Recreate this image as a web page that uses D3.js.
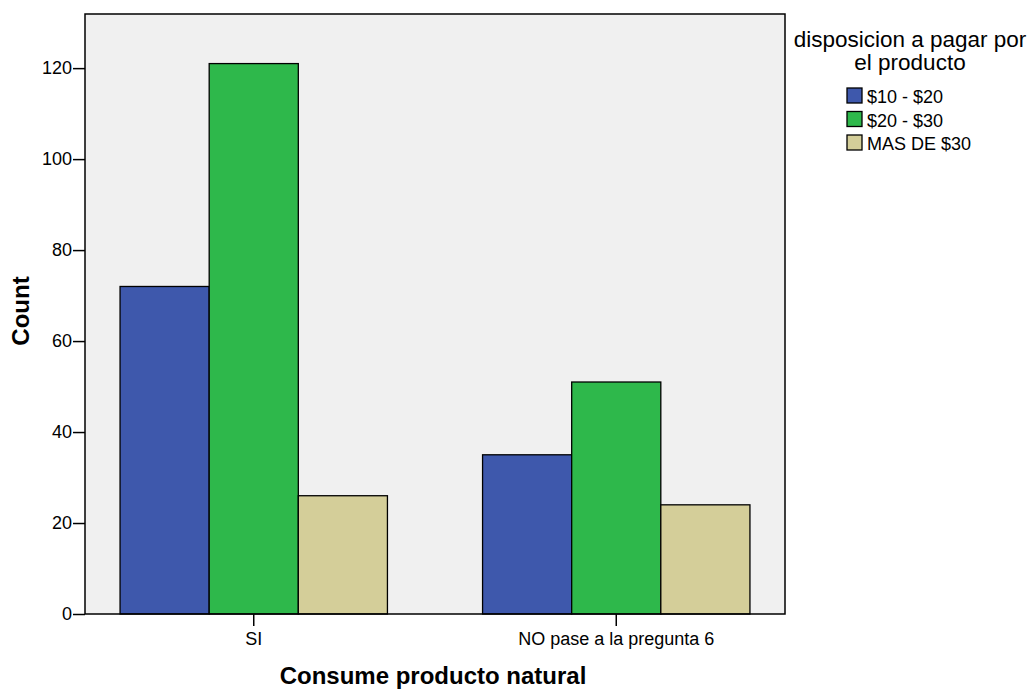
<!DOCTYPE html>
<html><head><meta charset="utf-8">
<script src="https://cdn.jsdelivr.net/npm/d3@7"></script>
<style>body{margin:0;background:#fff}svg{display:block;font-family:"Liberation Sans",Arial,sans-serif}</style>
</head><body>
<svg id="c" width="1031" height="693"></svg>
<script>
const categories = ["SI", "NO pase a la pregunta 6"];
const seriesNames = ["$10 - $20", "$20 - $30", "MAS DE $30"];
const seriesColors = ["#3e58ac", "#2eb84b", "#d4ce99"];
const values10_20 = [72, 35];
const values20_30 = [121, 51];
const valuesMas30 = [26, 24];
const yTicks = [0, 20, 40, 60, 80, 100, 120];
const seriesValues = [values10_20, values20_30, valuesMas30];

const svg = d3.select("#c");
const L = 85, R = 785, T = 14, B = 614;
const FF = "Liberation Sans, Arial, sans-serif";

const x0 = d3.scaleBand().domain(categories).range([L, R]).paddingInner(0.2624).paddingOuter(0.0967);
const x1 = d3.scaleBand().domain(seriesNames).range([0, x0.bandwidth()]);
const y = d3.scaleLinear().domain([0, 131.9]).range([B, T]);

svg.append("rect").attr("x", L).attr("y", T).attr("width", R - L).attr("height", B - T).attr("fill", "#f0f0f0");

const g = svg.append("g");
categories.forEach((c, ci) => {
  seriesNames.forEach((s, si) => {
    const v = seriesValues[si][ci];
    g.append("rect")
      .attr("x", x0(c) + x1(s)).attr("y", y(v))
      .attr("width", x1.bandwidth()).attr("height", y(0) - y(v))
      .attr("fill", seriesColors[si]).attr("stroke", "#000").attr("stroke-width", 1.3);
  });
});

svg.append("rect").attr("x", L).attr("y", T).attr("width", R - L).attr("height", B - T)
  .attr("fill", "none").attr("stroke", "#000").attr("stroke-width", 1.5);

const ya = svg.append("g").attr("transform", `translate(${L},0)`)
  .call(d3.axisLeft(y).tickValues(yTicks).tickSize(12).tickPadding(1).tickFormat(d3.format("d")));
ya.select(".domain").remove();
ya.selectAll("line").attr("stroke", "#000").attr("stroke-width", 1.5);
ya.selectAll("text").attr("font-size", 18).attr("fill", "#000").attr("font-family", FF);

const xa = svg.append("g").attr("transform", `translate(0,${B})`)
  .call(d3.axisBottom(x0).tickSize(12).tickPadding(6));
xa.select(".domain").remove();
xa.selectAll("line").attr("stroke", "#000").attr("stroke-width", 1.5);
xa.selectAll("text").attr("font-size", 18).attr("fill", "#000").attr("font-family", FF);

svg.append("text").attr("transform", "translate(29,311) rotate(-90)").attr("text-anchor", "middle")
  .attr("font-size", 24).attr("font-weight", "bold").text("Count");
svg.append("text").attr("x", 433).attr("y", 684).attr("text-anchor", "middle")
  .attr("font-size", 24).attr("font-weight", "bold").text("Consume producto natural");

svg.append("text").attr("x", 910).attr("y", 47).attr("text-anchor", "middle").attr("font-size", 22.5).text("disposicion a pagar por");
svg.append("text").attr("x", 910).attr("y", 70).attr("text-anchor", "middle").attr("font-size", 22.5).text("el producto");

const lg = svg.append("g");
seriesNames.forEach((s, i) => {
  const yy = 88 + i * 23.5;
  lg.append("rect").attr("x", 847).attr("y", yy).attr("width", 15).attr("height", 15)
    .attr("fill", seriesColors[i]).attr("stroke", "#000").attr("stroke-width", 1.3);
  lg.append("text").attr("x", 867).attr("y", yy + 15).attr("font-size", 18).text(s);
});
</script>
</body></html>
